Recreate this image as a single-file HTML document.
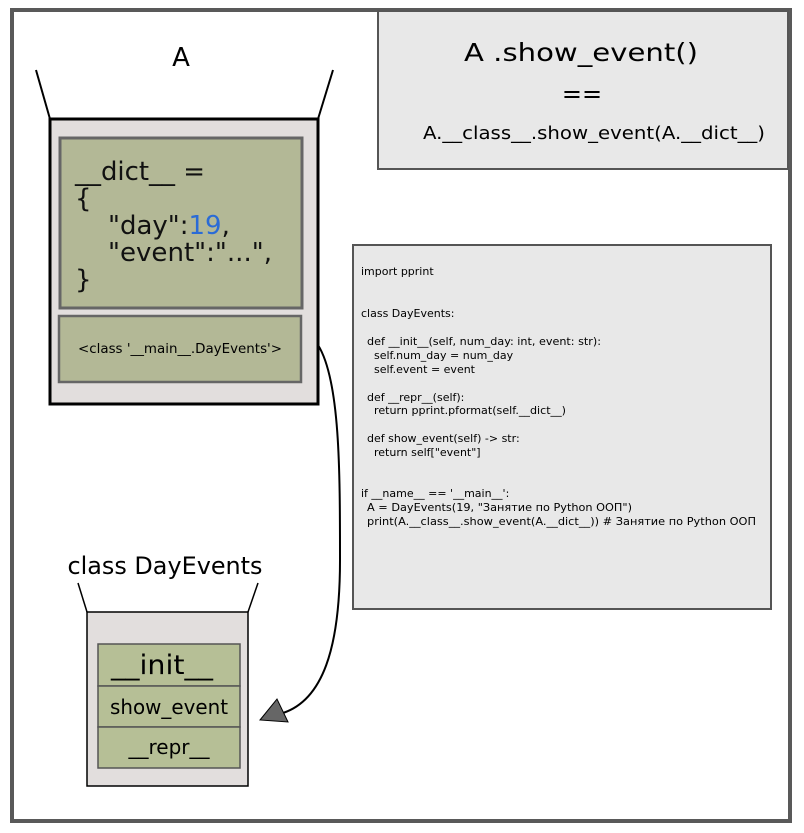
<!DOCTYPE html>
<html><head><meta charset="utf-8"><style>
html,body{margin:0;padding:0;background:#fff;}
svg{display:block;font-family:"DejaVu Sans","Liberation Sans",sans-serif;}
</style></head><body>
<svg width="804" height="833" viewBox="0 0 804 833" xmlns="http://www.w3.org/2000/svg">
<rect x="0" y="0" width="804" height="833" fill="#fff"/>
<rect x="12" y="10" width="778" height="811" fill="#fff" stroke="#595959" stroke-width="4"/>

<!-- top right box -->
<rect x="378" y="11" width="410" height="158" fill="#e8e8e8" stroke="#555" stroke-width="2"/>
<text x="581" y="61" font-size="25" text-anchor="middle" textLength="234" lengthAdjust="spacingAndGlyphs">A .show_event()</text>
<text x="582" y="102" font-size="24" text-anchor="middle">==</text>
<text x="594" y="139" font-size="18" text-anchor="middle" textLength="342" lengthAdjust="spacingAndGlyphs">A.__class__.show_event(A.__dict__)</text>

<!-- code box -->
<rect x="353" y="245" width="418" height="364" fill="#e8e8e8" stroke="#555" stroke-width="2"/>
<g font-size="11" fill="#000">
<text x="361" y="275">import pprint</text>
<text x="361" y="317">class DayEvents:</text>
<text x="367" y="345" textLength="234" lengthAdjust="spacingAndGlyphs">def __init__(self, num_day: int, event: str):</text>
<text x="374" y="359">self.num_day = num_day</text>
<text x="374" y="373">self.event = event</text>
<text x="367" y="401">def __repr__(self):</text>
<text x="374" y="414" textLength="192" lengthAdjust="spacingAndGlyphs">return pprint.pformat(self.__dict__)</text>
<text x="367" y="442">def show_event(self) -&gt; str:</text>
<text x="374" y="456">return self["event"]</text>
<text x="361" y="497">if __name__ == '__main__':</text>
<text x="367" y="511" textLength="265" lengthAdjust="spacingAndGlyphs">A = DayEvents(19, "Занятие по  Python ООП")</text>
<text x="367" y="525" textLength="389" lengthAdjust="spacingAndGlyphs">print(A.__class__.show_event(A.__dict__))  # Занятие по  Python ООП</text>
</g>

<!-- A object -->
<text x="181" y="66" font-size="26" text-anchor="middle">A</text>
<line x1="36" y1="70" x2="50" y2="119" stroke="#000" stroke-width="2"/>
<line x1="333" y1="70" x2="318" y2="119" stroke="#000" stroke-width="2"/>
<rect x="50" y="119" width="268" height="285" fill="#e2dedd" stroke="#000" stroke-width="3"/>
<rect x="60" y="138" width="242" height="170" fill="#b3b896" stroke="#666" stroke-width="3"/>
<g font-size="26" fill="#111">
<text x="75" y="180" textLength="130" lengthAdjust="spacingAndGlyphs">__dict__ =</text>
<text x="75" y="207">{</text>
<text x="108" y="234">"day":<tspan fill="#2a6bd6">19</tspan>,</text>
<text x="108" y="261" textLength="164" lengthAdjust="spacingAndGlyphs">"event":"...",</text>
<text x="75" y="288">}</text>
</g>
<rect x="59" y="316" width="242" height="66" fill="#b3b896" stroke="#666" stroke-width="2.5"/>
<text x="180" y="353" font-size="13.5" text-anchor="middle" textLength="204" lengthAdjust="spacingAndGlyphs">&lt;class '__main__.DayEvents'&gt;</text>

<!-- class DayEvents -->
<text x="165" y="574" font-size="24" text-anchor="middle" textLength="195" lengthAdjust="spacingAndGlyphs">class DayEvents</text>
<line x1="78" y1="583" x2="87" y2="612" stroke="#000" stroke-width="1.5"/>
<line x1="258" y1="583" x2="248" y2="612" stroke="#000" stroke-width="1.5"/>
<rect x="87" y="612" width="161" height="174" fill="#e2dedd" stroke="#000" stroke-width="1.5"/>
<rect x="98" y="644" width="142" height="42" fill="#b6bf96" stroke="#555" stroke-width="1.5"/>
<rect x="98" y="686" width="142" height="41" fill="#b6bf96" stroke="#555" stroke-width="1.5"/>
<rect x="98" y="727" width="142" height="41" fill="#b6bf96" stroke="#555" stroke-width="1.5"/>
<text x="162" y="674" font-size="27" text-anchor="middle" textLength="102" lengthAdjust="spacingAndGlyphs">__init__</text>
<text x="169" y="714" font-size="20" text-anchor="middle" textLength="118" lengthAdjust="spacingAndGlyphs">show_event</text>
<text x="169" y="754" font-size="20" text-anchor="middle" textLength="81" lengthAdjust="spacingAndGlyphs">__repr__</text>

<!-- connector -->
<path d="M318,345 C340,380 340,470 340,560 C340,650 322,700 283,713" fill="none" stroke="#000" stroke-width="2"/>
<polygon points="260,720 277,699 288,722" fill="#666" stroke="#000" stroke-width="1"/>
</svg>
</body></html>
